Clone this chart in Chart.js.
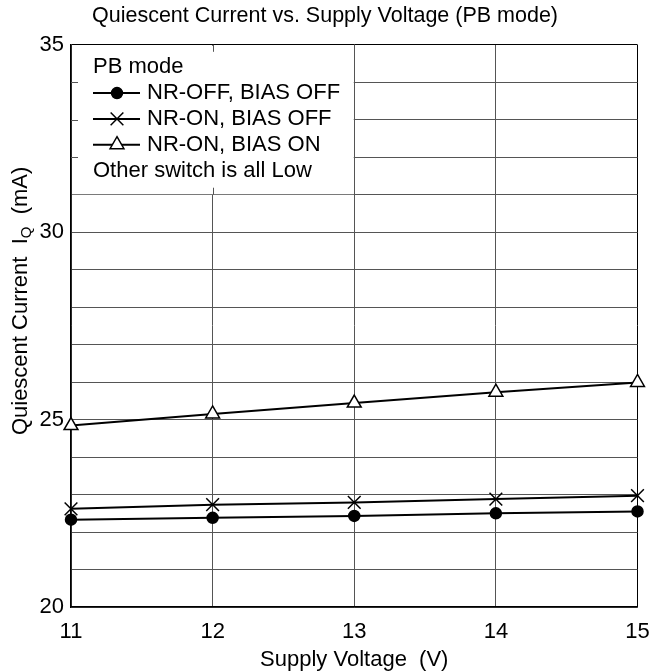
<!DOCTYPE html>
<html><head><meta charset="utf-8">
<script src="https://cdn.jsdelivr.net/npm/chart.js@4.4.1/dist/chart.umd.min.js"></script>
<style>html,body{margin:0;padding:0;background:#fff;} #wrap{width:650px;height:672px;position:relative;}</style>
</head><body><div id="wrap"><canvas id="c"></canvas></div>
<script>
const voltages = [11, 12, 13, 14, 15];
const nrOffBiasOff = [22.33, 22.38, 22.43, 22.50, 22.55];
const nrOnBiasOff = [22.62, 22.73, 22.79, 22.88, 22.97];
const nrOnBiasOn = [24.84, 25.15, 25.44, 25.73, 25.99];
const xTickLabels = [11, 12, 13, 14, 15];
const yTickLabels = [20, 25, 30, 35];
const seriesNames = ['NR-OFF, BIAS OFF', 'NR-ON, BIAS OFF', 'NR-ON, BIAS ON'];
const legendHeader = 'PB mode';
const legendFooter = 'Other switch is all Low';
const chartTitle = 'Quiescent Current vs. Supply Voltage (PB mode)';
const xTitle = 'Supply Voltage  (V)';
const yTitleParts = ['Quiescent Current  I', 'Q', '  (mA)'];

const FONT = "'Liberation Sans', Arial, Helvetica, sans-serif";
const FS = 22;
const GRID = '#555';

const pointStyles = [
  {pointStyle: 'circle', radius: 5.5, backgroundColor: '#000', borderColor: '#000', borderWidth: 1.5},
  {pointStyle: 'crossRot', radius: 9, backgroundColor: '#000', borderColor: '#000', borderWidth: 1.5},
  {pointStyle: 'triangle', radius: 8, backgroundColor: '#fff', borderColor: '#000', borderWidth: 1.5}
];
const seriesData = [nrOffBiasOff, nrOnBiasOff, nrOnBiasOn];

const datasets = seriesData.map((arr, i) => ({
  label: seriesNames[i],
  data: voltages.map((v, j) => ({x: v, y: arr[j]})),
  borderColor: '#000',
  borderWidth: 2,
  pointStyle: pointStyles[i].pointStyle,
  pointRadius: pointStyles[i].radius,
  pointHoverRadius: pointStyles[i].radius,
  pointBackgroundColor: pointStyles[i].backgroundColor,
  pointBorderColor: pointStyles[i].borderColor,
  pointBorderWidth: pointStyles[i].borderWidth,
  tension: 0,
  clip: false,
  order: 3 - i
}));

const legendPlugin = {
  id: 'boxLegend',
  beforeDatasetsDraw(chart) {
    const ctx = chart.ctx;
    const xs = chart.scales.x, ys = chart.scales.y;
    const l = xs.getPixelForValue(11), r = xs.getPixelForValue(13);
    const t = ys.getPixelForValue(35), b = ys.getPixelForValue(31);
    ctx.save();
    ctx.fillStyle = '#fff';
    ctx.fillRect(l + 1, t + 1, r - l - 1.5, b - t - 1.5);
    ctx.strokeStyle = GRID;
    ctx.lineWidth = 1;
    ctx.beginPath();
    [32, 33, 34].forEach(v => {
      const y = Math.round(ys.getPixelForValue(v)) + 0.5;
      ctx.moveTo(l, y); ctx.lineTo(l + 7, y);
    });
    const x12 = Math.round(xs.getPixelForValue(12)) + 0.5;
    ctx.moveTo(x12, t); ctx.lineTo(x12, t + 7);
    ctx.moveTo(x12, b); ctx.lineTo(x12, b - 7);
    ctx.stroke();

    ctx.fillStyle = '#000';
    ctx.font = FS + 'px ' + FONT;
    ctx.textBaseline = 'middle';
    ctx.textAlign = 'left';
    const x0 = l + 22, step = 25.8, y0 = t + 22.5;
    ctx.fillText(legendHeader, x0, y0);
    seriesNames.forEach((name, i) => {
      const y = y0 + step * (i + 1);
      ctx.strokeStyle = '#000';
      ctx.lineWidth = 2;
      ctx.beginPath();
      ctx.moveTo(x0, y); ctx.lineTo(x0 + 47, y);
      ctx.stroke();
      const ps = pointStyles[i];
      ctx.fillStyle = ps.backgroundColor;
      ctx.strokeStyle = ps.borderColor;
      ctx.lineWidth = ps.borderWidth;
      Chart.helpers.drawPoint(ctx, {pointStyle: ps.pointStyle, radius: ps.radius, borderWidth: ps.borderWidth, rotation: 0}, x0 + 24, y);
      ctx.fillStyle = '#000';
      ctx.fillText(name, x0 + 54, y);
    });
    ctx.fillText(legendFooter, x0, y0 + step * 4);
    ctx.restore();
  }
};

const yTitlePlugin = {
  id: 'yTitle',
  afterDraw(chart) {
    const ctx = chart.ctx;
    const ca = chart.chartArea;
    ctx.save();
    const cy = (ca.top + ca.bottom) / 2 - 25;
    ctx.translate(21, cy);
    ctx.rotate(-Math.PI / 2);
    ctx.fillStyle = '#000';
    ctx.textBaseline = 'middle';
    ctx.textAlign = 'left';
    const big = FS + 'px ' + FONT, small = '15px ' + FONT;
    ctx.font = big; const w0 = ctx.measureText(yTitleParts[0]).width;
    ctx.font = small; const w1 = ctx.measureText(yTitleParts[1]).width;
    ctx.font = big; const w2 = ctx.measureText(yTitleParts[2]).width;
    let x = -(w0 + w1 + w2) / 2;
    ctx.font = big; ctx.fillText(yTitleParts[0], x, 0); x += w0;
    ctx.font = small; ctx.fillText(yTitleParts[1], x, 6); x += w1;
    ctx.font = big; ctx.fillText(yTitleParts[2], x, 0);
    ctx.restore();
  }
};

const edgeColor = (ctx, edges) => edges.includes(ctx.tick && ctx.tick.value) ? '#000' : GRID;

new Chart(document.getElementById('c'), {
  type: 'line',
  data: {datasets},
  plugins: [legendPlugin, yTitlePlugin],
  options: {
    responsive: true,
    maintainAspectRatio: false,
    animation: false,
    events: [],
    layout: {padding: {left: 0, right: 0, top: 0, bottom: 0}},
    plugins: {
      legend: {display: false},
      tooltip: {enabled: false},
      title: {
        display: true, text: chartTitle, color: '#000',
        font: {family: FONT, size: 21.5, weight: 'normal', lineHeight: 1.2},
        padding: {top: 3, bottom: 16}
      }
    },
    scales: {
      x: {
        type: 'linear', min: 11, max: 15,
        afterBuildTicks: s => { s.ticks = xTickLabels.map(v => ({value: v})); },
        afterFit: s => { s.height = 65; s.paddingLeft = 0; s.paddingRight = 12.5; },
        grid: {color: c => edgeColor(c, [15]), lineWidth: 1, drawTicks: false},
        border: {color: '#000', width: 1.5},
        ticks: {padding: 12, color: '#000', font: {family: FONT, size: FS}, callback: v => String(v)},
        title: {display: true, text: xTitle, color: '#000', font: {family: FONT, size: FS, lineHeight: 1}, padding: {top: 0, bottom: 1}}
      },
      y: {
        type: 'linear', min: 20, max: 35,
        afterFit: s => { s.width = 71; s.paddingTop = 0; s.paddingBottom = 0; },
        grid: {color: c => edgeColor(c, [35]), lineWidth: 1, drawTicks: false},
        border: {color: '#000', width: 1.5},
        ticks: {stepSize: 1, padding: 7, color: '#000', font: {family: FONT, size: FS},
          callback: v => yTickLabels.includes(v) ? String(v) : ''}
      }
    }
  }
});
</script>
</body></html>
